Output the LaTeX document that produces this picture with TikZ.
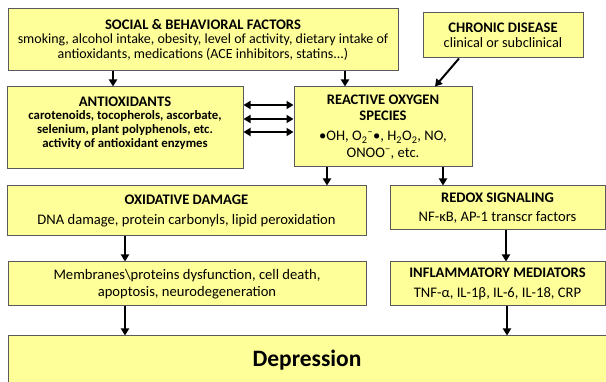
\documentclass[tikz,border=0pt]{standalone}
\usepackage{fontspec}
\setmainfont{Carlito}
\usetikzlibrary{arrows.meta,calc}
\definecolor{boxfill}{HTML}{FFFF99}
\definecolor{boxline}{HTML}{5A5A5A}
\tikzset{
  box/.style={draw=boxline, fill=boxfill, line width=1pt, align=center, inner sep=0pt, font=\fontsize{14}{14.5}\selectfont},
  txt/.style={align=center, inner sep=0pt},
  arr/.style={line width=2pt, -{Triangle[width=8pt,length=7pt]}},
  darr/.style={line width=2pt, {Triangle[width=8pt,length=7pt]}-{Triangle[width=8pt,length=7pt]}}
}
\newcommand{\ttlfont}{\fontsize{14.6}{14.5}\selectfont\bfseries}
\begin{document}
\begin{tikzpicture}[x=1pt,y=-1pt]
\useasboundingbox (0,0) rectangle (606,382);
\node[box, minimum width=390pt, minimum height=62pt] (soc) at (203,39.5)
  {{\ttlfont SOCIAL \& BEHAVIORAL FACTORS}\\smoking, alcohol intake, obesity, level of activity, dietary intake of\\antioxidants, medications (ACE inhibitors, statins...)};
\node[box, minimum width=160pt, minimum height=45pt, font=\fontsize{14.3}{15}\selectfont] (chr) at (503,35.5)
  {{\ttlfont CHRONIC DISEASE}\\clinical or subclinical};
\node[box, minimum width=236pt, minimum height=82pt] (anti) at (125,128) {};
\node[txt, font=\fontsize{12.8}{13.7}\selectfont\bfseries] (antiT) at (125,123)
  {{\ttlfont ANTIOXIDANTS}\\carotenoids, tocopherols, ascorbate,\\selenium, plant polyphenols, etc.\\activity of antioxidant enzymes};
\node[box, minimum width=178pt, minimum height=80pt, font=\fontsize{14.6}{16.5}\selectfont] (ros) at (383,127)
  {{\ttlfont REACTIVE OXYGEN}\\{\ttlfont SPECIES}\\[3.5pt]•OH, O\textsubscript{2}\textsuperscript{−}•, H\textsubscript{2}O\textsubscript{2}, NO,\\ONOO\textsuperscript{−}, etc.};
\node[box, minimum width=359pt, minimum height=50pt, font=\fontsize{14.6}{17}\selectfont] (ox) at (186.5,211)
  {{\ttlfont OXIDATIVE DAMAGE}\\[2.5pt]DNA damage, protein carbonyls, lipid peroxidation};
\node[box, minimum width=215pt, minimum height=44pt, font=\fontsize{14.6}{17}\selectfont] (red) at (497.5,208)
  {{\ttlfont REDOX SIGNALING}\\[2.5pt]NF-κB, AP-1 transcr factors};
\node[box, minimum width=358pt, minimum height=44pt, font=\fontsize{14.6}{17.5}\selectfont] (mem) at (187,284)
  {Membranes\textbackslash proteins dysfunction, cell death,\\apoptosis, neurodegeneration};
\node[box, minimum width=215pt, minimum height=44pt, font=\fontsize{14.6}{17}\selectfont] (inf) at (497.5,284)
  {{\ttlfont INFLAMMATORY MEDIATORS}\\[2.5pt]TNF-α, IL-1β, IL-6, IL-18, CRP};
\node[box, minimum width=598pt, minimum height=48pt] (dep) at (307,360)
  {\fontsize{23.5}{25}\selectfont\textbf{Depression}};
% arrows
\draw[arr] (113,0 |- soc.south) -- (113,0 |- anti.north);
\draw[arr] (345,0 |- soc.south) -- (345,0 |- ros.north);
\draw[arr] (459,0 |- chr.south) -- (435,0 |- ros.north);
\draw[darr] (anti.east |- 0,105) -- (ros.west |- 0,105);
\draw[darr] (anti.east |- 0,119) -- (ros.west |- 0,119);
\draw[darr] (anti.east |- 0,132) -- (ros.west |- 0,132);
\draw[arr] (327,0 |- ros.south) -- (327,0 |- ox.north);
\draw[arr] (443,0 |- ros.south) -- (443,0 |- red.north);
\draw[arr] (125,0 |- ox.south) -- (125,0 |- mem.north);
\draw[arr] (506,0 |- red.south) -- (506,0 |- inf.north);
\draw[arr] (125,0 |- mem.south) -- (125,0 |- dep.north);
\draw[arr] (507,0 |- inf.south) -- (507,0 |- dep.north);
\end{tikzpicture}
\end{document}
